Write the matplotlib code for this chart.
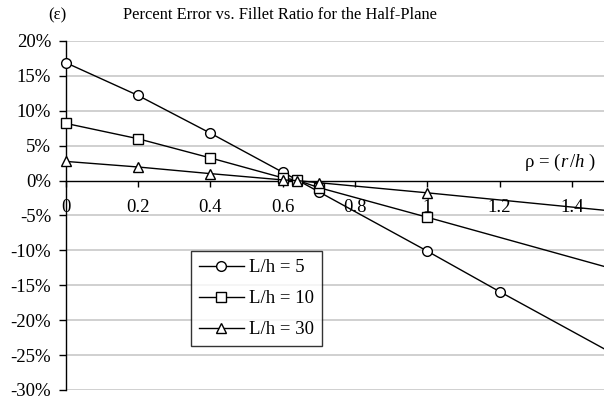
import matplotlib
matplotlib.use("Agg")
import matplotlib.pyplot as plt
from matplotlib.ticker import FixedLocator, FuncFormatter

plt.rcParams['font.family'] = ['Liberation Serif', 'DejaVu Serif']
plt.rcParams['mathtext.fontset'] = 'custom'
plt.rcParams['mathtext.rm'] = 'Liberation Serif'
plt.rcParams['mathtext.it'] = 'Liberation Serif:italic'

# Fillet ratio rho = r/h
rho = [0.0, 0.2, 0.4, 0.6, 0.64, 0.7, 1.0, 1.2, 1.5]

# Percent error for each plate length ratio
err_lh5 = [16.9, 12.2, 6.8, 1.2, 0.1, -1.6, -10.1, -15.9, -24.4]
err_lh10 = [8.2, 6.0, 3.25, 0.4, 0.05, -1.0, -5.25, None, -12.45]
err_lh30 = [2.75, 1.95, 1.0, 0.1, 0.0, -0.3, -1.75, None, -4.3]

series = [
    ("L/h = 5", err_lh5, "o"),
    ("L/h = 10", err_lh10, "s"),
    ("L/h = 30", err_lh30, "^"),
]

x_ticks = [0, 0.2, 0.4, 0.6, 0.8, 1.0, 1.2, 1.4]
x_labels = ["0", "0.2", "0.4", "0.6", "0.8", "1", "1.2", "1.4"]
y_ticks = [20, 15, 10, 5, 0, -5, -10, -15, -20, -25, -30]

FS = 13.5

fig = plt.figure(figsize=(6.04, 4.00), dpi=100)
ax = fig.add_axes([0.1088, 0.025, 1.0 - 0.1088, 0.8725])

for label, vals, mk in series:
    xs = [x for x, v in zip(rho, vals) if v is not None]
    ys = [v for v in vals if v is not None]
    # markers on the measured points only; the last point just carries the line
    ax.plot(xs, ys, color="black", lw=1.0, marker=mk, markersize=7,
            markerfacecolor="white", markeredgecolor="black", markeredgewidth=1.0,
            markevery=list(range(len(xs) - 1)), label=label, zorder=3,
            clip_on=False)

ax.set_xlim(0, 1.489)
ax.set_ylim(-30, 20)

for y in y_ticks:
    if y != 0:
        ax.axhline(y, color="#c8c8c8", lw=1.2, zorder=0)

ax.spines['top'].set_visible(False)
ax.spines['right'].set_visible(False)
ax.spines['bottom'].set_position(('data', 0))
ax.spines['bottom'].set_linewidth(1.0)
ax.spines['left'].set_linewidth(1.0)

ax.xaxis.set_major_locator(FixedLocator(x_ticks))
ax.set_xticklabels(x_labels)
ax.yaxis.set_major_locator(FixedLocator(y_ticks))
ax.yaxis.set_major_formatter(FuncFormatter(lambda v, p: f"{int(round(v))}%"))

ax.tick_params(axis='x', direction='out', length=4, width=1.0, pad=9, labelsize=FS)
ax.tick_params(axis='y', direction='out', length=5, width=1.0, pad=5.5, labelsize=FS)

ax.text(0.986, 0.652, r'$\mathrm{ρ\,=\,(}\mathit{r\,/h}\ \mathrm{)}$',
        transform=ax.transAxes, ha='right', va='center', fontsize=FS)

fig.text(57 / 604, 1 - 15 / 400, "(ε)", ha='center', va='center', fontsize=12)
fig.text(280 / 604, 1 - 15 / 400, "Percent Error vs. Fillet Ratio for the Half-Plane",
         ha='center', va='center', fontsize=11.9)

leg = ax.legend(loc='upper left', bbox_to_anchor=(0.2328, 0.398), frameon=True,
                fancybox=False, edgecolor='black', fontsize=FS, handlelength=2.4,
                borderpad=0.42, labelspacing=0.75, handletextpad=0.27,
                borderaxespad=0.0)
leg.get_frame().set_linewidth(1.0)

fig.savefig("out.png", dpi=100)
